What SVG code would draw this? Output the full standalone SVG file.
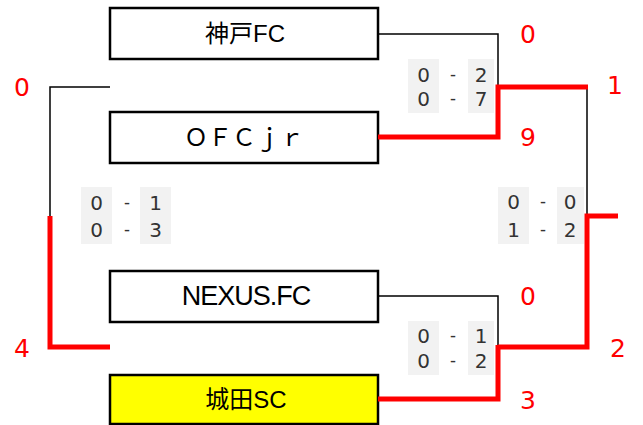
<svg xmlns="http://www.w3.org/2000/svg" width="643" height="425" viewBox="0 0 643 425">
<style>
.box{fill:#fff;stroke:#000;stroke-width:2.5}
.win{fill:#ffff00;stroke:#000;stroke-width:2.5}
.team{font-family:"Liberation Sans","Noto Sans CJK JP",sans-serif;font-size:24px;fill:#000;text-anchor:middle}
.bk{fill:none;stroke:#000;stroke-width:1.5}
.rd{fill:none;stroke:#ff0000;stroke-width:5}
.res{font-family:"DejaVu Sans",sans-serif;font-size:25px;fill:#ff0000;text-anchor:middle}
.cell{fill:#f2f2f2}
.sc{font-family:"DejaVu Sans",sans-serif;font-size:20px;fill:#333;text-anchor:middle}
.dash{font-family:"Liberation Sans",sans-serif;font-size:18px;fill:#333;text-anchor:middle}
</style>
<rect width="643" height="425" fill="#fff"/>
<g id="team-kobe"><rect class="box" x="110" y="8" width="268" height="51"/><text class="team" x="245" y="42">神戸FC</text></g>
<g id="team-ofc"><rect class="box" x="110" y="112" width="268" height="51"/><text class="team" x="244" y="146" style="font-family:'Noto Sans CJK JP',sans-serif">ＯＦＣｊｒ</text></g>
<g id="team-nexus"><rect class="box" x="110" y="271" width="268" height="51"/><text class="team" x="246" y="305" style="font-size:27px;letter-spacing:-1px">NEXUS.FC</text></g>
<g id="team-shirota"><rect class="win" x="110" y="375" width="268" height="49"/><text class="team" x="246" y="408">城田SC</text></g>
<g id="connectors">
<polyline class="bk" points="378,34 498,34 498,86"/>
<polyline class="bk" points="110,87 50,87 50,217"/>
<polyline class="bk" points="587,87 587,216"/>
<polyline class="bk" points="378,296 498,296 498,346"/>
<polyline class="rd" points="378,137 498,137 498,87 588,87"/>
<polyline class="rd" points="618,216 587,216 587,347 498,347"/>
<polyline class="rd" points="378,399 498,399 498,345"/>
<polyline class="rd" points="50,216 50,347 110,347"/>
</g>
<g id="results">
<text class="res" x="22" y="96">0</text>
<text class="res" x="22" y="357">4</text>
<text class="res" x="528" y="43">0</text>
<text class="res" x="528" y="146">9</text>
<text class="res" x="615" y="94">1</text>
<text class="res" x="618" y="357">2</text>
<text class="res" x="528" y="305">0</text>
<text class="res" x="528" y="409">3</text>
</g>
<g id="score-top">
<rect class="cell" x="408" y="59" width="31" height="54"/><rect class="cell" x="468" y="59" width="26" height="54"/>
<text class="sc" x="423.5" y="82">0</text><text class="dash" x="453" y="81">-</text><text class="sc" x="481" y="82">2</text>
<text class="sc" x="423.5" y="106">0</text><text class="dash" x="453" y="105">-</text><text class="sc" x="481" y="106">7</text>
</g>
<g id="score-left">
<rect class="cell" x="81" y="187" width="31" height="57"/><rect class="cell" x="140" y="187" width="31" height="57"/>
<text class="sc" x="96.5" y="210">0</text><text class="dash" x="127" y="209">-</text><text class="sc" x="155.5" y="210">1</text>
<text class="sc" x="96.5" y="237">0</text><text class="dash" x="127" y="236">-</text><text class="sc" x="155.5" y="237">3</text>
</g>
<g id="score-right">
<rect class="cell" x="498" y="187" width="31" height="57"/><rect class="cell" x="557" y="187" width="27" height="57"/>
<text class="sc" x="513.5" y="209">0</text><text class="dash" x="543" y="208">-</text><text class="sc" x="570" y="209">0</text>
<text class="sc" x="513.5" y="237">1</text><text class="dash" x="543" y="236">-</text><text class="sc" x="570" y="237">2</text>
</g>
<g id="score-bottom">
<rect class="cell" x="408" y="321" width="31" height="54"/><rect class="cell" x="468" y="321" width="26" height="54"/>
<text class="sc" x="423.5" y="343">0</text><text class="dash" x="453" y="342">-</text><text class="sc" x="481" y="343">1</text>
<text class="sc" x="423.5" y="368">0</text><text class="dash" x="453" y="367">-</text><text class="sc" x="481" y="368">2</text>
</g>
</svg>
